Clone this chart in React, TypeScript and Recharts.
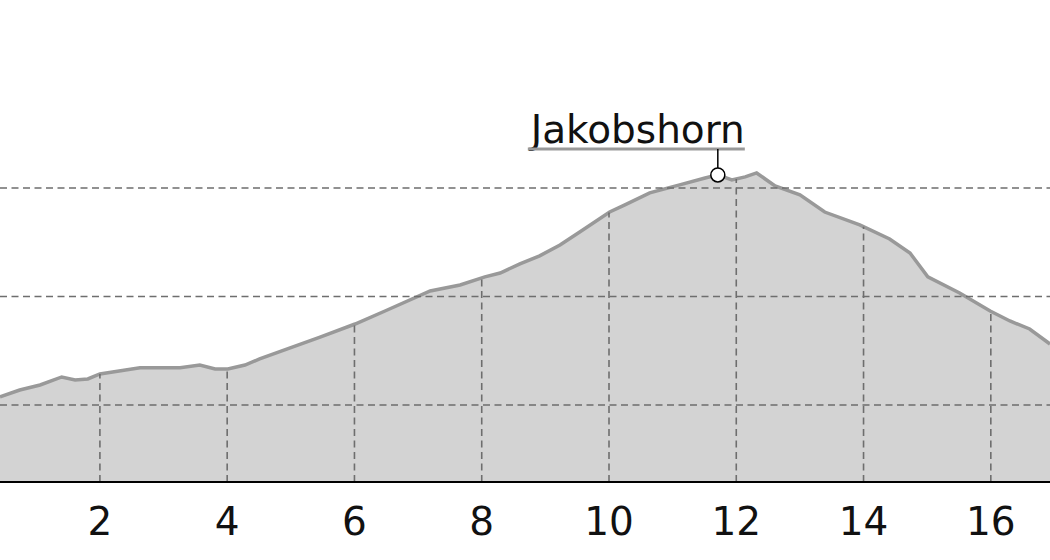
import { AreaChart, Area, XAxis, YAxis, ReferenceLine, ReferenceDot } from 'recharts'

// distance in km, elevation in m
const distances = [
  0.43, 0.74, 1.06, 1.4, 1.61, 1.81, 2.0, 2.63, 3.26, 3.57, 3.81, 4.01, 4.28, 4.51, 4.99, 5.46, 6.01,
  6.48, 7.19, 7.66, 8.05, 8.29, 8.6, 8.91, 9.23, 9.54, 10.01, 10.25, 10.64, 11.11, 11.51, 11.71,
  11.93, 12.14, 12.32, 12.61, 13.0, 13.39, 13.94, 14.41, 14.73, 15.01, 15.51, 15.99, 16.3, 16.61, 16.93,
]
const elevations = [
  1537, 1569, 1592, 1629, 1615, 1620, 1643, 1671, 1671, 1684, 1666, 1666, 1684, 1712, 1763, 1813, 1873,
  1933, 2025, 2053, 2090, 2108, 2150, 2187, 2237, 2297, 2389, 2422, 2477, 2514, 2546, 2560,
  2537, 2551, 2569, 2509, 2468, 2389, 2330, 2265, 2200, 2090, 2016, 1933, 1887, 1850, 1781,
]
const xTicks = [2, 4, 6, 8, 10, 12, 14, 16]
const elevGrid = [1500, 2000, 2500]

const peakName = 'Jakobshorn'
const peakKm = 11.71
const peakElevation = 2560

const xDomain = [0.43, 16.93]
const yDomain = [1145, 3366]

const data = distances.map((d, i) => ({ km: d, elev: elevations[i] }))

function elevAt(x: number) {
  for (let i = 1; i < distances.length; i++) {
    if (x <= distances[i]) {
      const t = (x - distances[i - 1]) / (distances[i] - distances[i - 1])
      return elevations[i - 1] + t * (elevations[i] - elevations[i - 1])
    }
  }
  return elevations[elevations.length - 1]
}

const FONT = '"DejaVu Sans", sans-serif'
const GRID = '#6e6e6e'

function PeakLabel(props: any) {
  const vb = props.viewBox || {}
  const cx = vb.x + (vb.width || 0) / 2
  const cy = vb.y + (vb.height || 0) / 2
  const lineY = cy - 26
  return (
    <g>
      <text x={cx + 27} y={lineY - 6} textAnchor="end" fontSize={39} fontFamily={FONT} fill="#111">
        {peakName}
      </text>
      <line x1={cx - 190} x2={cx + 27} y1={lineY} y2={lineY} stroke="#999" strokeWidth={3} />
      <line x1={cx} x2={cx} y1={lineY} y2={cy - 7} stroke="#000" strokeWidth={1.5} />
    </g>
  )
}

export default function App() {
  return (
    <div style={{ position: 'absolute', left: 0, top: 0 }}>
      <AreaChart width={1050} height={560} data={data} margin={{ top: 0, right: 0, left: 0, bottom: 0 }}>
        <XAxis
          dataKey="km"
          type="number"
          domain={xDomain}
          ticks={xTicks}
          allowDataOverflow
          height={78}
          tickSize={0}
          tickMargin={25}
          axisLine={{ stroke: '#000', strokeWidth: 2 }}
          tickLine={false}
          tick={{ fontSize: 39, fill: '#111', fontFamily: FONT }}
        />
        <YAxis hide type="number" domain={yDomain} allowDataOverflow />
        <Area
          type="linear"
          dataKey="elev"
          stroke="#999999"
          strokeWidth={3.5}
          fill="#d3d3d3"
          fillOpacity={1}
          isAnimationActive={false}
          dot={false}
          activeDot={false}
        />
        {elevGrid.map((g) => (
          <ReferenceLine key={'h' + g} y={g} stroke={GRID} strokeWidth={1.6} strokeDasharray="7 4.5" />
        ))}
        {xTicks.map((t) => (
          <ReferenceLine
            key={'v' + t}
            segment={[
              { x: t, y: yDomain[0] },
              { x: t, y: elevAt(t) },
            ]}
            stroke={GRID}
            strokeWidth={1.6}
            strokeDasharray="7 4.5"
          />
        ))}
        <ReferenceDot
          x={peakKm}
          y={peakElevation}
          r={7}
          fill="#fff"
          stroke="#000"
          strokeWidth={1.5}
          label={<PeakLabel />}
        />
      </AreaChart>
    </div>
  )
}
